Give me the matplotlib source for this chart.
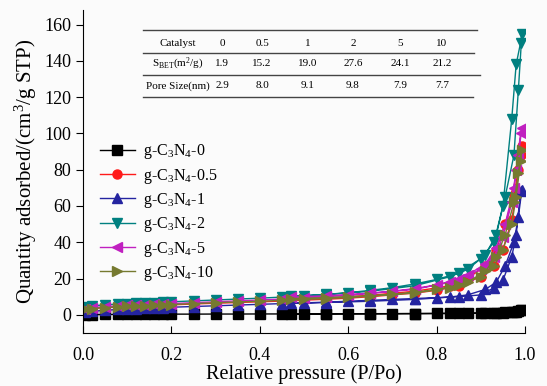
import matplotlib
matplotlib.use("Agg")
import matplotlib.pyplot as plt
from matplotlib.lines import Line2D

plt.rcParams["font.family"] = ["Liberation Serif", "DejaVu Serif"]
plt.rcParams["mathtext.fontset"] = "custom"
plt.rcParams["mathtext.rm"] = "Liberation Serif"
plt.rcParams["mathtext.it"] = "Liberation Serif:italic"

# relative pressure points (adsorption then desorption)
p_ads = [0.005, 0.02, 0.05, 0.08, 0.10, 0.12, 0.14, 0.16, 0.18, 0.20, 0.25, 0.30, 0.35,
         0.40, 0.45, 0.50, 0.55, 0.60, 0.65, 0.70, 0.75, 0.80, 0.85, 0.90, 0.93, 0.95,
         0.97, 0.98, 0.99]
p_des = [0.993, 0.985, 0.975, 0.955, 0.935, 0.91, 0.87, 0.83, 0.75, 0.65, 0.55, 0.47]

labels = ["g-C$_3$N$_4$-0", "g-C$_3$N$_4$-0.5", "g-C$_3$N$_4$-1",
          "g-C$_3$N$_4$-2", "g-C$_3$N$_4$-5", "g-C$_3$N$_4$-10"]

ads_0 = [0.0, 0.1, 0.2, 0.25, 0.3, 0.3, 0.3, 0.35, 0.35, 0.4, 0.4, 0.45, 0.45, 0.5, 0.5,
         0.55, 0.55, 0.6, 0.6, 0.65, 0.7, 0.75, 0.8, 0.9, 1.0, 1.1, 1.4, 1.8, 2.5]
des_0 = [2.7, 2.1, 1.7, 1.3, 1.1, 0.95, 0.85, 0.8, 0.7, 0.65, 0.6, 0.55]

ads_05 = [3.0, 3.5, 4.0, 4.3, 4.5, 4.7, 4.9, 5.1, 5.3, 5.5, 6.0, 6.4, 6.8, 7.2, 7.6,
          8.1, 8.6, 9.2, 10.0, 11.0, 12.0, 13.5, 16.0, 21.0, 27.0, 36.0, 52.0, 68.0, 88.0]
des_05 = [93.0, 80.0, 66.0, 50.0, 36.0, 27.0, 20.0, 16.0, 13.0, 10.8, 9.3, 8.6]

ads_1 = [1.5, 2.0, 2.5, 3.0, 3.2, 3.4, 3.6, 3.8, 4.0, 4.2, 4.6, 5.0, 5.4, 5.8, 6.2,
         6.6, 7.0, 7.5, 8.0, 8.5, 9.0, 9.5, 10.0, 11.0, 15.0, 19.0, 32.0, 44.0, 68.0]
des_1 = [69.0, 54.0, 40.0, 27.0, 18.0, 14.0, 11.0, 9.8, 8.5, 7.5, 6.8, 6.3]

ads_2 = [4.5, 5.0, 5.5, 6.0, 6.2, 6.4, 6.6, 6.8, 7.0, 7.2, 7.7, 8.2, 8.7, 9.2, 9.8,
         10.5, 11.3, 12.2, 13.5, 15.0, 17.0, 19.5, 23.0, 31.0, 40.0, 60.0, 108.0, 138.0, 150.0]
des_2 = [155.0, 124.0, 88.0, 65.0, 44.0, 33.0, 25.0, 21.0, 16.0, 13.0, 11.2, 10.2]

ads_5 = [3.5, 4.0, 4.5, 5.0, 5.2, 5.4, 5.6, 5.8, 6.0, 6.2, 6.7, 7.2, 7.7, 8.2, 8.7,
         9.3, 10.0, 10.8, 11.8, 13.0, 14.5, 16.5, 19.5, 25.0, 32.0, 43.0, 62.0, 80.0, 100.0]
des_5 = [103.0, 88.0, 70.0, 50.0, 37.0, 28.0, 22.0, 18.0, 14.0, 12.0, 10.5, 9.8]

ads_10 = [3.0, 3.5, 4.0, 4.5, 4.7, 4.9, 5.1, 5.3, 5.5, 5.7, 6.2, 6.7, 7.1, 7.5, 8.0,
          8.5, 9.0, 9.6, 10.3, 11.3, 12.5, 14.0, 16.5, 21.0, 27.0, 36.0, 50.0, 65.0, 85.0]
des_10 = [91.0, 78.0, 62.0, 44.0, 32.0, 24.0, 18.0, 15.0, 12.0, 10.5, 9.5, 9.0]

ads_all = [ads_0, ads_05, ads_1, ads_2, ads_5, ads_10]
des_all = [des_0, des_05, des_1, des_2, des_5, des_10]
colors = ["#000000", "#ff1a1a", "#2424a0", "#008080", "#c020c0", "#767a30"]
markers = ["s", "o", "^", "v", "<", ">"]

# table
tbl_cols = ["Catalyst", "0", "0.5", "1", "2", "5", "10"]
tbl_sbet = ["S$_{\\mathrm{BET}}$(m$^2$/g)", "1.9", "15.2", "19.0", "27.6", "24.1", "21.2"]
tbl_pore = ["Pore Size(nm)", "2.9", "8.0", "9.1", "9.8", "7.9", "7.7"]

fig = plt.figure(figsize=(5.47, 3.86), dpi=100, facecolor="#fbfbfb")
ax = fig.add_axes([83 / 547, 1 - 333 / 386, 442 / 547, 323 / 386])
ax.set_facecolor("#fbfbfb")

for i in range(len(labels)):
    ax.plot(p_ads + p_des, ads_all[i] + des_all[i], color=colors[i], marker=markers[i],
            markersize=6.5, linewidth=1.0, label=labels[i])

ax.set_xlim(0, 1.0)
ax.set_ylim(-10, 168)
ax.set_xticks([0.0, 0.2, 0.4, 0.6, 0.8, 1.0])
ax.set_yticks(range(0, 161, 20))
ax.tick_params(axis="x", direction="in", length=5, labelsize=13, pad=10)
ax.tick_params(axis="y", direction="out", length=5, labelsize=13)
ax.spines["top"].set_visible(False)
ax.spines["right"].set_visible(False)
ax.set_xlabel("Relative pressure (P/Po)", fontsize=14.5, labelpad=0)
ax.set_ylabel("Quantity adsorbed/(cm$^3$/g STP)", fontsize=15, labelpad=4)

ax.legend(loc="upper left", bbox_to_anchor=(0.038, 0.59), frameon=False, fontsize=11.5,
          handlelength=2.2, labelspacing=0.33, handletextpad=0.5, borderaxespad=0,
          borderpad=0)

# table drawn in figure pixel coordinates
W, H = 547, 386
col_x = [178, 222, 262, 308, 353, 400, 442]
row_y = [43, 64, 86]
for row, y in zip([tbl_cols, tbl_sbet, tbl_pore], row_y):
    for txt, x in zip(row, col_x):
        fig.text(x / W, 1 - y / H, txt, ha="center", va="center", fontsize=8)
for y, x0, x1 in [(30, 143, 477), (53, 143, 474), (75, 143, 480), (97, 143, 473)]:
    fig.add_artist(Line2D([x0 / W, x1 / W], [1 - y / H, 1 - y / H], color="#444444",
                          linewidth=1.0, transform=fig.transFigure))

fig.savefig("out.png", dpi=100, facecolor=fig.get_facecolor())
